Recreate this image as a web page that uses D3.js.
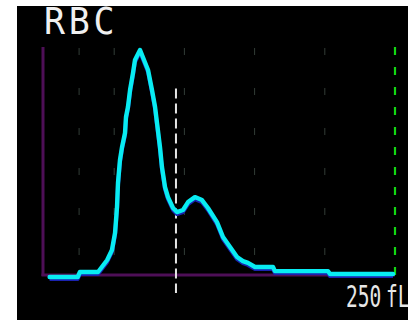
<!DOCTYPE html>
<html>
<head>
<meta charset="utf-8">
<script src="https://cdn.jsdelivr.net/npm/d3@7"></script>
<style>
  html, body { margin: 0; padding: 0; background: #ffffff; }
  svg { display: block; }
</style>
</head>
<body>
<svg id="chart" width="408" height="320"></svg>
<script>
// RBC volume histogram (fL on x, relative count on y)
const volumeFL = [4, 24, 25.6, 38.5, 45, 48.4, 50.6, 52, 52.7, 54.1, 55.6, 57.7, 58.4, 59.8, 61.3, 63.4, 64.8, 68.4,
  74.1, 76.9, 79.1, 80.5, 82.6, 84, 86.2, 88.3, 91.9, 94.7, 99, 102.6, 107.5, 112.5, 116.8, 123.2, 127.5, 132.5,
  137.5, 141.7, 145.3, 150.3, 163.1, 164.5, 202.3, 203.7, 248.6];
const relCount = [0, 0, 2.2, 2.2, 7.5, 11.9, 19.4, 30.8, 41.4, 51.5, 57.3, 63.4, 70.5, 74.9, 82.4, 89.9, 95.6, 100,
  91.2, 82.4, 74.9, 67.8, 57.3, 48.5, 39.6, 35.2, 30.4, 28.6, 29.5, 33, 35.2, 33.9, 30.4, 24.2, 17.6, 13.2,
  8.8, 7, 6.2, 4.4, 4.4, 2.6, 2.6, 1.3, 1.3];
const gridFL = [25, 50, 100, 150, 200];
const upperLimitFL = 250;
const discriminatorFL = 94;
const discriminatorTop = 83;
const titleText = "RBC";
const unitValue = "250";
const unitText = "fL";

const svg = d3.select("#chart");
const x = d3.scaleLinear().domain([0, 250]).range([44, 395]);
const y = d3.scaleLinear().domain([0, 100]).range([277, 50]);
const baseY = 275, topY = 47;

// black panel
svg.append("rect").attr("x", 17).attr("y", 6).attr("width", 391).attr("height", 314).attr("fill", "#000");

// faint vertical grid
svg.append("g").selectAll("line").data(gridFL).join("line")
  .attr("x1", d => x(d)).attr("x2", d => x(d))
  .attr("y1", topY + 1).attr("y2", baseY)
  .attr("stroke", "#323d37").attr("stroke-width", 1)
  .attr("stroke-dasharray", "7,33");

// upper limit marker
svg.append("line")
  .attr("x1", x(upperLimitFL)).attr("x2", x(upperLimitFL))
  .attr("y1", topY).attr("y2", baseY)
  .attr("stroke", "#12d812").attr("stroke-width", 2.2)
  .attr("stroke-dasharray", "8,12");

// axes (purple)
svg.append("line").attr("x1", x(0) - 1).attr("x2", x(0) - 1).attr("y1", topY).attr("y2", baseY + 1)
  .attr("stroke", "#4e0f57").attr("stroke-width", 3);
svg.append("line").attr("x1", x(0) - 2.5).attr("x2", x(upperLimitFL)).attr("y1", baseY).attr("y2", baseY)
  .attr("stroke", "#4e0f57").attr("stroke-width", 3);

// discriminator
svg.append("line")
  .attr("x1", x(discriminatorFL)).attr("x2", x(discriminatorFL))
  .attr("y1", y(discriminatorTop)).attr("y2", baseY + 18)
  .attr("stroke", "#e4e4e4").attr("stroke-width", 2)
  .attr("stroke-dasharray", "10,5");

const pts = volumeFL.map((v, i) => [v, relCount[i]]);
const line = d3.line().x(d => x(d[0])).y(d => y(d[1]));

// histogram trace with dark blue underside
svg.append("path").datum(pts).attr("d", line)
  .attr("transform", "translate(0,2)")
  .attr("fill", "none").attr("stroke", "#1a22b0").attr("stroke-width", 4)
  .attr("stroke-linejoin", "round");
svg.append("path").datum(pts).attr("d", line)
  .attr("fill", "none").attr("stroke", "#08ecf2").attr("stroke-width", 4.4)
  .attr("stroke-linejoin", "round").attr("stroke-linecap", "round");

// labels
svg.append("text").attr("transform", "translate(44,34) scale(0.92,1)")
  .attr("font-family", "DejaVu Sans Mono").attr("font-size", 38)
  .attr("letter-spacing", 4).attr("fill", "#f0f0f0").text(titleText);

svg.append("text").attr("transform", "translate(346,307) scale(0.63,1)")
  .attr("font-family", "DejaVu Sans Mono").attr("font-size", 31)
  .attr("fill", "#e6e6e6").text(unitValue);
svg.append("text").attr("transform", "translate(386,307) scale(0.63,1)")
  .attr("font-family", "DejaVu Sans Mono").attr("font-size", 31)
  .attr("fill", "#e6e6e6").text(unitText);
</script>
</body>
</html>
